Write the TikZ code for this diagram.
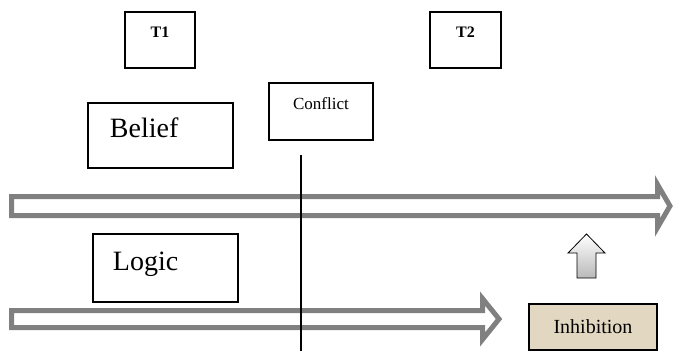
\documentclass[tikz,border=0pt]{standalone}
\usepackage{fontspec}
\setmainfont{Liberation Serif}
\newfontfamily\tnr{Liberation Serif}
\usetikzlibrary{positioning}
\definecolor{arrowgray}{RGB}{128,128,128}
\definecolor{parchment}{RGB}{226,216,193}
\newcommand{\fs}[1]{\tnr\fontsize{#1}{#1}\selectfont}

\begin{document}
\begin{tikzpicture}[x=1pt,y=-1pt,line join=miter,
    box/.style={draw,rectangle,inner sep=0pt,line width=1.9pt,anchor=north west},
    timeline/.style={draw=arrowgray,fill=white,line width=5pt,line join=miter}]
  \useasboundingbox (0,0) rectangle (673,351);
  \node[box,text width=70pt,text height=26pt,text depth=30pt,align=center,font=\fs{16}\bfseries] (t1) at (124,11) {T1};
  \node[box,text width=71pt,text height=26pt,text depth=30pt,align=center,font=\fs{16}\bfseries] (t2) at (429,11) {T2};
  \node[box,text width=104pt,text height=27pt,text depth=30pt,align=center,font=\fs{17}] (conflict) at (268,82) {Conflict};
  \node[box,inner xsep=22pt,text width=101pt,text height=35pt,text depth=30pt,align=left,font=\fs{28}] (belief) at (87,102) {Belief};
  \node[box,inner xsep=20pt,text width=105pt,text height=37pt,text depth=31pt,align=left,font=\fs{28}] (logic) at (92,233) {Logic};
  \draw[timeline] (11.5,196.5) -- (657.5,196.5) -- (657.5,184.5) -- (670,206) -- (657.5,227.5) -- (657.5,215.5) -- (11.5,215.5) -- cycle;
  \draw[timeline] (11.5,310.5) -- (482.5,310.5) -- (482.5,298.5) -- (499,319) -- (482.5,339.5) -- (482.5,327.5) -- (11.5,327.5) -- cycle;
  \node[box,anchor=center,fill=parchment,minimum width=128pt,minimum height=46pt,font=\fs{20}] (inhib) at (593,327) {Inhibition};
  \draw[black,line width=0.8pt,top color=white,bottom color=gray!55] (577,278) -- (577,253) -- (568,253) -- (586.5,234) -- (605,253) -- (596,253) -- (596,278) -- cycle;
  \coordinate (cuttop) at (301,155);
  \coordinate (cutbot) at (301,351);
  \draw[line width=1.2pt] (cuttop) -- (cutbot);
\end{tikzpicture}
\end{document}
